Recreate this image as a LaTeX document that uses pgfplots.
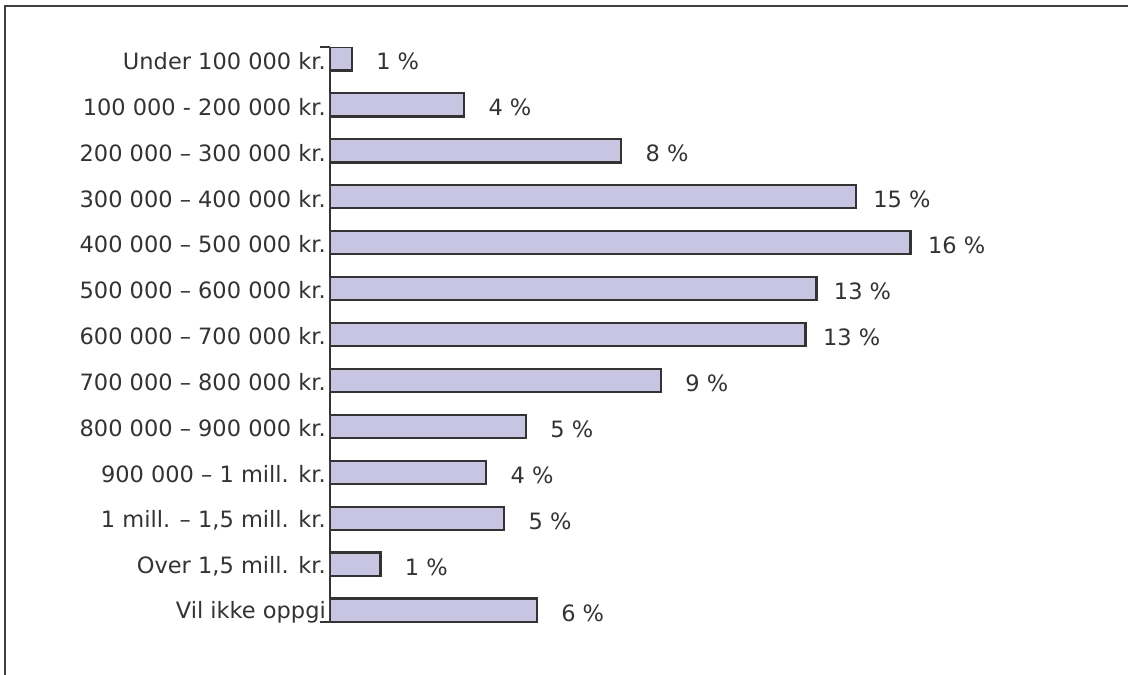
\documentclass[border=0pt]{standalone}
\usepackage{fontspec}
\setmainfont{DejaVu Sans}
\usepackage{pgfplots}
\pgfplotsset{compat=1.18}
\usepackage{pgfplotstable}

\definecolor{barfill}{RGB}{200,197,226}
\definecolor{barline}{RGB}{51,51,51}
\definecolor{txt}{RGB}{51,51,51}
\definecolor{framec}{RGB}{64,64,64}

% idx = row from top, val = bar length, pct = printed label
\pgfplotstableread{
idx val pct
0 0.60 1
1 3.70 4
2 8.04 8
3 14.53 15
4 16.04 16
5 13.44 13
6 13.14 13
7 9.14 9
8 5.41 5
9 4.31 4
10 4.81 5
11 1.39 1
12 5.71 6
}\inntekt

\begin{document}
\begin{tikzpicture}[font=\fontsize{22.5pt}{27pt}\selectfont, text=txt]
  \path[use as bounding box] (0,0) rectangle (1128pt,675pt);
  % outer frame (top and left only)
  \draw[framec, line width=2pt] (5pt,0) -- (5pt,669pt) -- (1128pt,669pt);
  \begin{axis}[
    at={(330pt,53pt)}, anchor=south west,
    scale only axis, width=724pt, height=575pt,
    xbar, bar width=23.3pt,
    xmin=0, xmax=20,
    ymin=-0.255, ymax=12.255, y dir=reverse,
    axis x line=none, axis y line*=left,
    y axis line style={barline, line width=1.8pt},
    ytick={0,...,12},
    yticklabels={Under 100 000 kr., 100 000 - 200 000 kr., 200 000 – 300 000 kr.,
      300 000 – 400 000 kr., 400 000 – 500 000 kr., 500 000 – 600 000 kr.,
      600 000 – 700 000 kr., 700 000 – 800 000 kr., 800 000 – 900 000 kr.,
      900 000 – 1 mill. kr., {1 mill. – 1,5 mill. kr.}, {Over 1,5 mill. kr.},
      Vil ikke oppgi},
    major tick length=0pt,
    yticklabel style={font=\fontsize{22.5pt}{27pt}\selectfont, text=txt,
      yshift=-2pt, inner sep=4pt},
    extra y ticks={-0.255,12.255}, extra y tick labels={},
    extra y tick style={major tick length=10pt, tick align=outside,
      tick style={barline, line width=1.8pt}},
    point meta=explicit symbolic,
    nodes near coords={\pgfplotspointmeta\ \%},
    nodes near coords align={anchor=center},
    every node near coord/.append style={xshift=46pt, yshift=-3pt,
      font=\fontsize{22.5pt}{27pt}\selectfont, text=txt},
  ]
    \addplot[fill=barfill, draw=barline, line width=2.4pt]
      table[x=val, y=idx, meta=pct] {\inntekt};
  \end{axis}
\end{tikzpicture}
\end{document}
